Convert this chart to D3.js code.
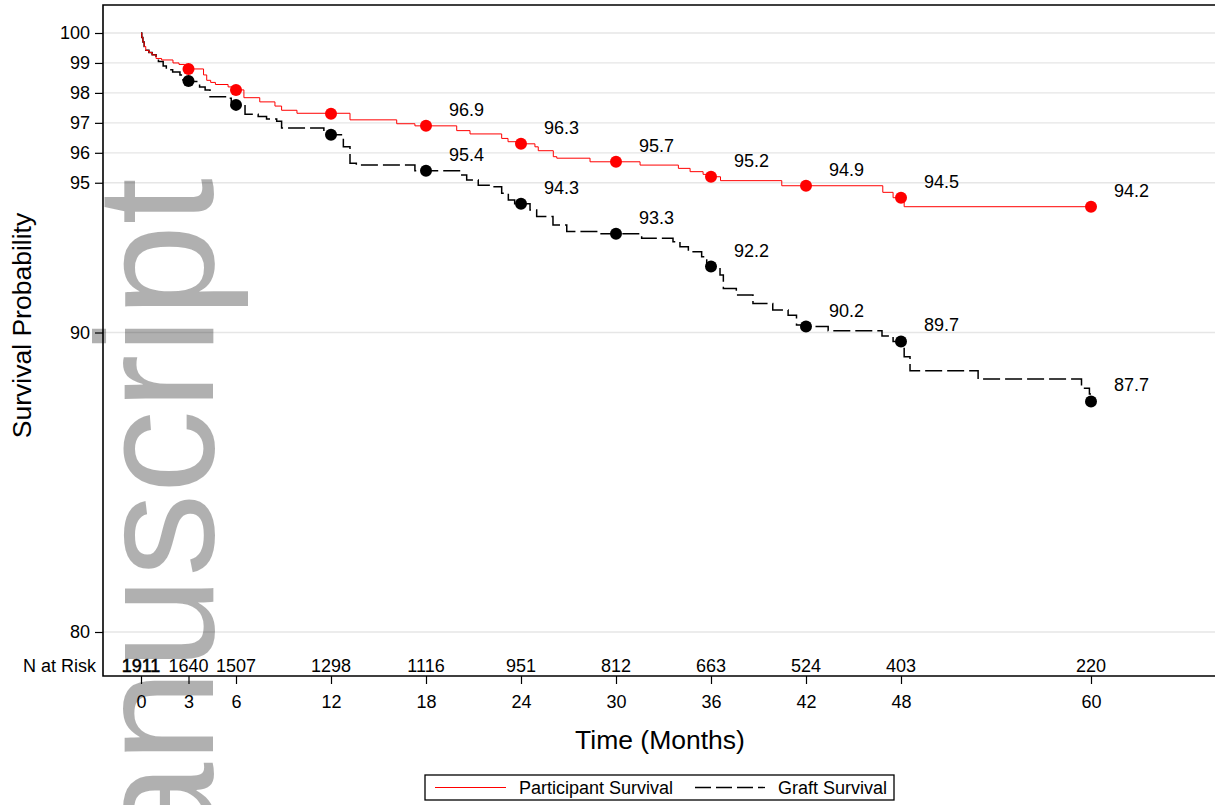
<!DOCTYPE html>
<html>
<head>
<meta charset="utf-8">
<script src="https://cdn.jsdelivr.net/npm/d3@7"></script>
<style>
  html, body { margin: 0; padding: 0; background: #fff; }
  svg { display: block; }
  text { font-family: "Liberation Sans", Arial, Helvetica, sans-serif; fill: #000; }
</style>
</head>
<body>
<svg id="chart" width="1215" height="805"></svg>
<script>
// ---------------- data ----------------
const markerTimes = [3, 6, 12, 18, 24, 30, 36, 42, 48, 60];
const participantMarkers = [98.8, 98.1, 97.3, 96.9, 96.3, 95.7, 95.2, 94.9, 94.5, 94.2];
const graftMarkers = [98.4, 97.6, 96.6, 95.4, 94.3, 93.3, 92.2, 90.2, 89.7, 87.7];
const labelTimes = [18, 24, 30, 36, 42, 48, 60];

const riskTimes = [0, 3, 6, 12, 18, 24, 30, 36, 42, 48, 60];
const nAtRisk = [1911, 1640, 1507, 1298, 1116, 951, 812, 663, 524, 403, 220];

const xTicks = [0, 3, 6, 12, 18, 24, 30, 36, 42, 48, 60];
const yTicks = [80, 90, 95, 96, 97, 98, 99, 100];

// Kaplan-Meier step curves (time in months, survival %)
const participantTimes = [0, 0.05, 0.12, 0.2, 0.3, 0.5, 0.7, 0.95, 1.3, 2.02, 2.4, 2.75, 3.95, 4.15, 4.4, 4.7, 5.5, 5.85, 6.5, 7.5, 8.46, 8.88, 9.85, 13.2, 16.15, 17.3, 19.94, 20.78, 22.78, 23.18, 23.7, 24.88, 25.09, 26.04, 26.26, 28.36, 31.52, 33.94, 34.68, 35.5, 36.0, 36.6, 40.47, 46.85, 47.5, 48.2, 60];
const participantSurv  = [100, 99.85, 99.7, 99.55, 99.42, 99.35, 99.27, 99.15, 99.1, 99.0, 98.95, 98.8, 98.6, 98.42, 98.35, 98.28, 98.2, 98.1, 97.84, 97.7, 97.56, 97.42, 97.32, 97.1, 96.97, 96.9, 96.74, 96.63, 96.48, 96.37, 96.3, 96.2, 96.07, 95.87, 95.82, 95.7, 95.59, 95.48, 95.37, 95.28, 95.2, 95.07, 94.9, 94.68, 94.5, 94.2, 94.2];

const graftTimes = [0, 0.05, 0.12, 0.2, 0.3, 0.5, 0.7, 0.95, 1.1, 1.4, 1.6, 2.0, 2.46, 2.65, 2.9, 3.7, 4.05, 4.36, 5.41, 5.7, 5.9, 6.57, 7.4, 7.93, 8.57, 8.88, 11.55, 11.9, 12.78, 13.2, 13.6, 17.3, 20.26, 20.57, 21.3, 22.04, 22.78, 23.2, 23.6, 24.57, 24.99, 26.02, 26.89, 29.0, 31.62, 33.6, 34.04, 34.57, 35.41, 35.73, 36.0, 36.57, 36.78, 37.6, 38.65, 39.9, 40.87, 41.4, 41.8, 43.4, 46.8, 47.5, 48.2, 48.57, 52.87, 59.4, 59.9, 60];
const graftSurv  = [100, 99.85, 99.7, 99.55, 99.42, 99.35, 99.27, 99.15, 99.05, 98.9, 98.77, 98.7, 98.6, 98.43, 98.38, 98.2, 98.1, 97.87, 97.82, 97.7, 97.6, 97.29, 97.21, 97.13, 97.05, 96.83, 96.7, 96.6, 96.2, 95.65, 95.59, 95.4, 95.26, 95.09, 94.92, 94.87, 94.65, 94.42, 94.3, 94.09, 93.87, 93.59, 93.37, 93.3, 93.15, 93.03, 92.86, 92.7, 92.53, 92.31, 92.2, 91.92, 91.47, 91.25, 90.97, 90.75, 90.58, 90.25, 90.2, 90.06, 89.88, 89.7, 89.19, 88.72, 88.45, 88.14, 87.95, 87.95];

const legendLabels = ["Participant Survival", "Graft Survival"];
const watermarkText = "Manuscript";

// ---------------- layout ----------------
const svg = d3.select("#chart");
const frame = { left: 103, top: 5, right: 1216, bottom: 676 };
const x = d3.scaleLinear().domain([0, 60]).range([141, 1091]);
const y = d3.scaleLinear().domain([80, 100]).range([632, 33]);
const RED = "#ff0000";

// gridlines
svg.append("g").selectAll("line").data(yTicks).join("line")
  .attr("x1", frame.left).attr("x2", frame.right)
  .attr("y1", d => y(d)).attr("y2", d => y(d))
  .attr("stroke", "#e6e6e6").attr("stroke-width", 1.3);

// y axis
const yAxis = svg.append("g").attr("transform", `translate(${frame.left},0)`)
  .call(d3.axisLeft(y).tickValues(yTicks).tickSize(8).tickPadding(5).tickSizeOuter(0));
yAxis.select(".domain").remove();
yAxis.selectAll(".tick line").attr("stroke", "#000").attr("stroke-width", 1.2);
yAxis.selectAll(".tick text").attr("font-size", 18).attr("font-family", null);

// x axis
const xAxis = svg.append("g").attr("transform", `translate(0,${frame.bottom})`)
  .call(d3.axisBottom(x).tickValues(xTicks).tickSize(8).tickPadding(11).tickSizeOuter(0));
xAxis.select(".domain").remove();
xAxis.selectAll(".tick line").attr("stroke", "#000").attr("stroke-width", 1.2);
xAxis.selectAll(".tick text").attr("font-size", 18).attr("font-family", null);

// frame lines (left, top, bottom)
svg.append("path")
  .attr("d", `M${frame.right},${frame.top}H${frame.left}V${frame.bottom}H${frame.right}`)
  .attr("fill", "none").attr("stroke", "#000").attr("stroke-width", 1.6);

// axis titles
svg.append("text")
  .attr("transform", `translate(31,${(frame.top + frame.bottom) / 2 - 15}) rotate(-90)`)
  .attr("text-anchor", "middle").attr("font-size", 26.5)
  .text("Survival Probability");
svg.append("text")
  .attr("x", 660).attr("y", 749).attr("text-anchor", "middle").attr("font-size", 26.5)
  .text("Time (Months)");

// N at risk
svg.append("text").attr("x", 96).attr("y", 672).attr("text-anchor", "end")
  .attr("font-size", 18).text("N at Risk");
svg.append("g").selectAll("text").data(riskTimes).join("text")
  .attr("x", d => x(d)).attr("y", 672).attr("text-anchor", "middle").attr("font-size", 18)
  .attr("stroke", (d, i) => i === 0 ? "#000" : "none").attr("stroke-width", 0.5)
  .text((d, i) => nAtRisk[i]);

// curves
const line = d3.line().x(d => x(d[0])).y(d => y(d[1])).curve(d3.curveStepAfter);
const participantData = participantTimes.map((t, i) => [t, participantSurv[i]]);
const graftData = graftTimes.map((t, i) => [t, graftSurv[i]]);

svg.append("path").datum(graftData).attr("d", line)
  .attr("fill", "none").attr("stroke", "#000").attr("stroke-width", 1.5)
  .attr("stroke-dasharray", "17,5");
svg.append("path").datum(participantData).attr("d", line)
  .attr("fill", "none").attr("stroke", RED).attr("stroke-width", 1);

// markers and labels
function drawMarkers(vals, color) {
  const pts = markerTimes.map((t, i) => ({ t, v: vals[i] }));
  svg.append("g").selectAll("circle").data(pts).join("circle")
    .attr("cx", d => x(d.t)).attr("cy", d => y(d.v)).attr("r", 6).attr("fill", color);
  svg.append("g").selectAll("text").data(pts.filter(d => labelTimes.includes(d.t))).join("text")
    .attr("x", d => x(d.t) + 23).attr("y", d => y(d.v) - 10).attr("font-size", 18)
    .text(d => d.v.toFixed(1));
}
drawMarkers(participantMarkers, RED);
drawMarkers(graftMarkers, "#000");

// legend
const lg = svg.append("g");
lg.append("rect").attr("x", 425).attr("y", 775).attr("width", 469).attr("height", 25)
  .attr("fill", "#fff").attr("stroke", "#000").attr("stroke-width", 1.3);
lg.append("line").attr("x1", 435).attr("x2", 506).attr("y1", 787.5).attr("y2", 787.5)
  .attr("stroke", RED).attr("stroke-width", 1.2);
lg.append("text").attr("x", 519).attr("y", 794).attr("font-size", 18).text(legendLabels[0]);
lg.append("line").attr("x1", 695).attr("x2", 765).attr("y1", 787.5).attr("y2", 787.5)
  .attr("stroke", "#000").attr("stroke-width", 1.3).attr("stroke-dasharray", "16,5");
lg.append("text").attr("x", 778).attr("y", 794).attr("font-size", 18).text(legendLabels[1]);

// watermark
svg.append("text")
  .attr("transform", "translate(213,178) rotate(-90)")
  .attr("text-anchor", "end").attr("font-size", 167)
  .attr("fill", "#000").attr("fill-opacity", 0.31)
  .text(watermarkText);
</script>
</body>
</html>
